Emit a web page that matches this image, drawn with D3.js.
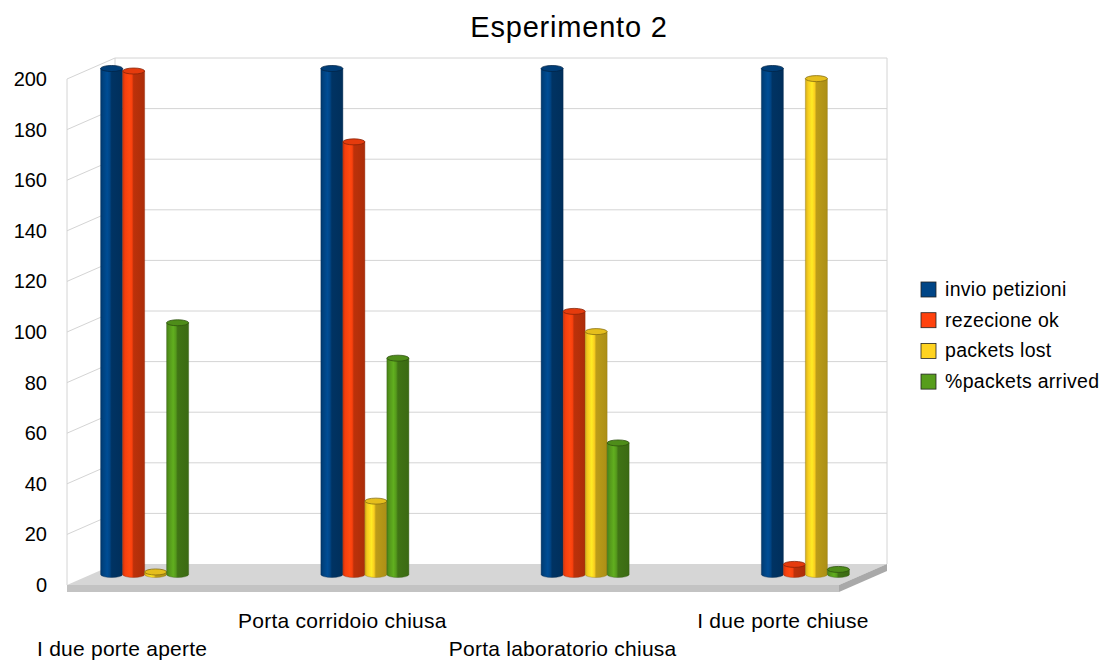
<!DOCTYPE html>
<html>
<head>
<meta charset="utf-8">
<script src="https://cdn.jsdelivr.net/npm/d3@7/dist/d3.min.js"></script>
<style>
  html, body { margin: 0; padding: 0; background: #fff; }
  svg { display: block; font-family: "Liberation Sans", Arial, sans-serif; }
</style>
</head>
<body>
<svg id="chart" width="1106" height="661"></svg>
<script>
// Data
const categories = ["I due porte aperte", "Porta corridoio chiusa", "Porta laboratorio chiusa", "I due porte chiuse"];
const seriesNames = ["invio petizioni", "rezecione ok", "packets lost", "%packets arrived"];
const invioPetizioni = [200, 200, 200, 200];
const rezecioneOk = [199, 171, 104, 4];
const packetsLost = [1, 29, 96, 196];
const packetsArrived = [99.5, 85.5, 52, 2];
const seriesValues = [invioPetizioni, rezecioneOk, packetsLost, packetsArrived];
const yTicks = [0, 20, 40, 60, 80, 100, 120, 140, 160, 180, 200];
const colors = ["#004586", "#ff420e", "#ffd320", "#579d1c"];

const svg = d3.select("#chart");

// Oblique 3D projection: depth offset from front plane to back wall
const depthDx = 48, depthDy = -21;
const frontLeft = 67, frontRight = 839;

// Vertical scale on the front plane; other planes are shifted copies
const yFront = d3.scaleLinear().domain([0, 200]).range([585, 79]);
const yBack = v => yFront(v) + depthDy;
const yMid = v => yFront(v) + depthDy / 2;

const gridColor = "#d4d4d4";
const grid = svg.append("g");

// Left wall and back wall gridlines
yTicks.filter(v => v > 0).forEach(v => {
  grid.append("line")
    .attr("x1", frontLeft).attr("y1", yFront(v))
    .attr("x2", frontLeft + depthDx).attr("y2", yBack(v))
    .attr("stroke", gridColor).attr("stroke-width", 1);
  grid.append("line")
    .attr("x1", frontLeft + depthDx).attr("y1", yBack(v))
    .attr("x2", frontRight + depthDx).attr("y2", yBack(v))
    .attr("stroke", gridColor).attr("stroke-width", 1);
});
// Wall edges
grid.append("line")
  .attr("x1", frontLeft).attr("y1", yFront(200)).attr("x2", frontLeft).attr("y2", yFront(0))
  .attr("stroke", gridColor);
grid.append("line")
  .attr("x1", frontLeft + depthDx).attr("y1", yBack(200)).attr("x2", frontLeft + depthDx).attr("y2", yBack(0))
  .attr("stroke", gridColor);
grid.append("line")
  .attr("x1", frontRight + depthDx).attr("y1", yBack(200)).attr("x2", frontRight + depthDx).attr("y2", yBack(0))
  .attr("stroke", gridColor);

// Floor slab
const floorTh = 7;
const y0 = yFront(0);
svg.append("polygon")
  .attr("points", [[frontLeft, y0], [frontRight, y0], [frontRight + depthDx, y0 + depthDy], [frontLeft + depthDx, y0 + depthDy]].join(" "))
  .attr("fill", "#d6d6d6");
svg.append("polygon")
  .attr("points", [[frontLeft, y0], [frontRight, y0], [frontRight, y0 + floorTh], [frontLeft, y0 + floorTh]].join(" "))
  .attr("fill", "#c3c3c3");
svg.append("polygon")
  .attr("points", [[frontRight, y0], [frontRight + depthDx, y0 + depthDy], [frontRight + depthDx, y0 + depthDy + floorTh], [frontRight, y0 + floorTh]].join(" "))
  .attr("fill", "#a9a9a9");

// Horizontal scales
const x0 = d3.scaleBand().domain(categories).range([12, 893]);
const x1 = d3.scaleBand().domain(seriesNames).range([0, 88]);
const groupStart = c => x0(c) + x0.bandwidth() / 2 - 21.5;

// Cylinder shading gradients
const defs = svg.append("defs");
colors.forEach((c, i) => {
  const base = d3.color(c);
  const g = defs.append("linearGradient").attr("id", "cyl" + i)
    .attr("x1", "0").attr("x2", "1").attr("y1", "0").attr("y2", "0");
  const stops = [
    [0, base.darker(0.55)],
    [0.12, base.darker(0.1)],
    [0.3, base.brighter(0.3)],
    [0.42, base.darker(0.05)],
    [0.5, base.darker(0.85)],
    [1, base.darker(1.1)]
  ];
  stops.forEach(([o, col]) => g.append("stop").attr("offset", o).attr("stop-color", col.formatHex()));
});

// Cylinders
const bars = [];
categories.forEach((c, ci) => {
  seriesNames.forEach((s, si) => {
    bars.push({ cat: c, series: s, si, value: seriesValues[si][ci] });
  });
});

const ry = 3;
const barG = svg.append("g");
bars.forEach(d => {
  const w = x1.bandwidth();
  const rx = w / 2;
  const xl = groupStart(d.cat) + x1(d.series);
  const yb = yMid(0);
  const yt = yMid(d.value);
  const g = barG.append("g");
  g.append("path")
    .attr("d", `M${xl},${yt} L${xl},${yb} A${rx},${ry} 0 0 0 ${xl + w},${yb} L${xl + w},${yt} Z`)
    .attr("fill", `url(#cyl${d.si})`)
    .attr("stroke", d3.color(colors[d.si]).darker(1.6).formatHex())
    .attr("stroke-width", 0.4);
  g.append("ellipse")
    .attr("cx", xl + rx).attr("cy", yt).attr("rx", rx).attr("ry", ry)
    .attr("fill", d3.color(colors[d.si]).darker(0.3).formatHex())
    .attr("stroke", d3.color(colors[d.si]).darker(1.8).formatHex())
    .attr("stroke-width", 0.8);
});

// Y axis labels
const yAxis = d3.axisLeft(yFront).tickValues(yTicks).tickSize(0).tickPadding(20).tickFormat(d3.format("d"));
const ya = svg.append("g").attr("transform", `translate(${frontLeft},0)`).call(yAxis);
ya.select(".domain").remove();
ya.selectAll("text").attr("font-size", 20).attr("fill", "#000")
  .attr("font-family", "Liberation Sans, Arial, sans-serif");

// Category labels, staggered on two rows
svg.append("g").selectAll("text").data(categories).join("text")
  .attr("x", c => x0(c) + x0.bandwidth() / 2)
  .attr("y", (c, i) => i % 2 === 0 ? 656 : 628)
  .attr("text-anchor", "middle")
  .attr("font-size", 21)
  .attr("letter-spacing", 0.25)
  .attr("fill", "#000")
  .text(c => c);

// Title
svg.append("text")
  .attr("x", 569).attr("y", 37)
  .attr("text-anchor", "middle")
  .attr("font-size", 29)
  .attr("letter-spacing", 0.8)
  .attr("fill", "#000")
  .text("Esperimento 2");

// Legend
const legend = svg.append("g").attr("transform", "translate(921,282)");
seriesNames.forEach((s, i) => {
  const row = legend.append("g").attr("transform", `translate(0,${i * 30.7})`);
  row.append("rect").attr("width", 15).attr("height", 15)
    .attr("fill", colors[i]).attr("stroke", "#222").attr("stroke-width", 0.8);
  row.append("text").attr("x", 24).attr("y", 14)
    .attr("font-size", 19.5).attr("fill", "#000")
    .attr("letter-spacing", 0.3)
    .text(s);
});
</script>
</body>
</html>
